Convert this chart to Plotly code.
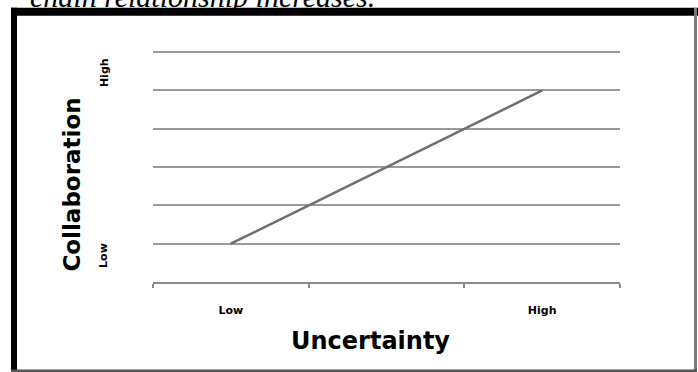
import plotly.graph_objects as go

# --- data ---
categories = ["Low", " ", "High"]
x_points = ["Low", "High"]
collaboration = [1, 5]
y_labels = ["Low", "High"]
x_title = "Uncertainty"
y_title = "Collaboration"
caption = "chain relationship increases."

W, H = 698, 372
L, R, T, B = 153, 78, 52, 90
pw, ph = W - L - R, H - T - B

def px(x):
    return (x - L) / pw

def py(y):
    return (H - B - y) / ph

fig = go.Figure()
fig.add_trace(go.Scatter(
    x=x_points, y=collaboration, mode="lines",
    line=dict(color="#6e6e6e", width=2.5),
    showlegend=False, hoverinfo="skip",
))

heavy = "DejaVu Sans, Arial Black, sans-serif"

fig.update_layout(
    width=W, height=H,
    margin=dict(l=L, r=R, t=T - 1, b=B),
    paper_bgcolor="white", plot_bgcolor="white",
    xaxis=dict(
        type="category", categoryarray=categories, categoryorder="array",
        range=[-0.5, 2.5], tickson="boundaries", ticks="outside",
        ticklen=4, tickcolor="#8a8a8a", tickwidth=1.5,
        showline=True, linecolor="#8a8a8a", linewidth=2,
        showgrid=False, zeroline=False,
        tickfont=dict(family=heavy, size=11, color="black", weight="bold"),
        ticklabelstandoff=17,
    ),
    yaxis=dict(
        range=[0, 6.03], dtick=1, tick0=0,
        showgrid=True, gridcolor="#9a9a9a", gridwidth=2,
        showticklabels=False, zeroline=False, showline=False,
        ticks="",
    ),
    font=dict(family=heavy),
)

# axis titles as annotations
fig.add_annotation(
    text="<b>" + x_title + "</b>", xref="paper", yref="paper",
    x=px(370), y=py(341), xanchor="center", yanchor="middle", showarrow=False,
    font=dict(family=heavy, size=24, color="black"),
)
fig.add_annotation(
    text="<b>" + y_title + "</b>", xref="paper", yref="paper",
    x=px(72), y=py(185), xanchor="center", yanchor="middle",
    showarrow=False, textangle=-90,
    font=dict(family=heavy, size=23, color="black"),
)
for lab, ypix in zip(y_labels, [256, 74]):
    fig.add_annotation(
        text="<b>" + lab + "</b>", xref="paper", yref="paper",
        x=px(104), y=py(ypix), xanchor="center", yanchor="middle",
        showarrow=False, textangle=-90,
        font=dict(family=heavy, size=11, color="black"),
    )

# clipped caption at top
fig.add_annotation(
    text="<i>" + caption + "</i>", xref="paper", yref="paper",
    x=px(28), y=py(16), xanchor="left", yanchor="bottom", showarrow=False,
    font=dict(family="Liberation Serif, Times New Roman, serif", size=30, color="black"),
)

# frame
frame = [
    (11, 9, 17, H, "black"),      # left
    (11, 9, W, 17, "black"),      # top
    (694, 9, 697, H, "#7a7a7a"),  # right
    (11, 369, 697, 372, "#555555"),  # bottom
]
for x0, y0, x1, y1, c in frame:
    fig.add_shape(type="rect", xref="paper", yref="paper",
                  x0=px(x0), x1=px(x1), y0=py(y0), y1=py(y1),
                  fillcolor=c, line=dict(width=0), layer="above")

fig.write_html("out.html", config={"displayModeBar": False},
               post_script="document.body.style.margin='0';document.body.style.overflow='hidden';")
